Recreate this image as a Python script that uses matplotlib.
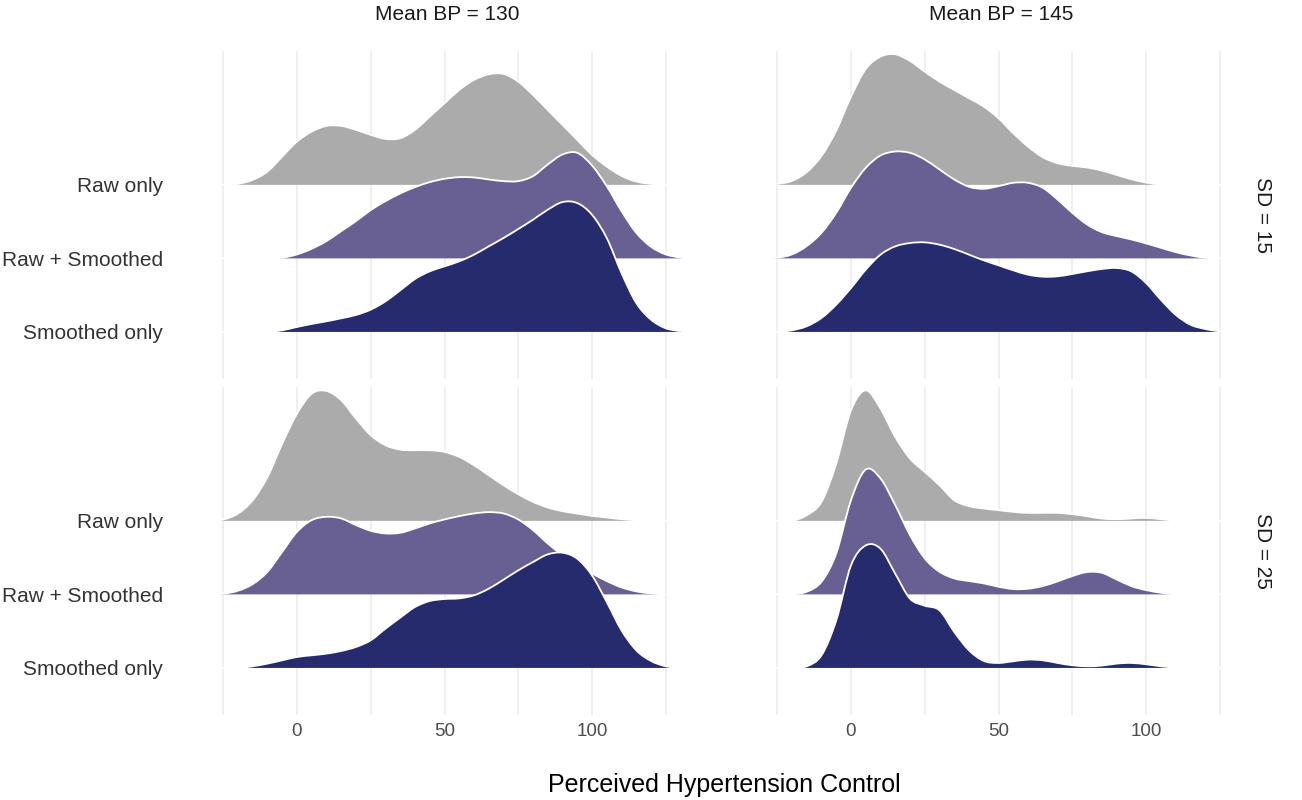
import numpy as np
import matplotlib.pyplot as plt
from matplotlib.path import Path
from matplotlib.patches import PathPatch

plt.rcParams['font.family'] = ['Liberation Sans', 'DejaVu Sans']

figsize = (13.02, 8.0)

# x positions at which the ridge heights were read (perceived control score)
x_grid = list(range(-30, 135, 5))

row_labels = ['Smoothed only', 'Raw + Smoothed', 'Raw only']
mean_bp_labels = ['Mean BP = 130', 'Mean BP = 145']
sd_labels = ['SD = 15', 'SD = 25']
x_ticks = [0, 50, 100]
x_minor = [-25, 25, 75, 125]

# relative density heights (same arbitrary unit for every ridge)
sd15_bp130_raw = [0, 0, 3, 15, 40, 85, 130, 160, 177, 177, 165, 150, 138, 140, 165, 205, 245,
                  285, 315, 332, 333, 310, 270, 225, 180, 135, 90, 55, 27, 10, 3, 0, 0]
sd15_bp130_both = [0, 0, 0, 0, 0, 2, 12, 29, 52, 82, 112, 145, 172, 195, 214, 229, 239,
                   244, 243, 237, 232, 232, 247, 282, 312, 317, 279, 217, 142, 77, 35, 12, 2]
sd15_bp130_smooth = [0, 0, 0, 0, 0, 5, 15, 24, 32, 41, 51, 67, 92, 125, 159, 182, 197,
                     212, 232, 257, 282, 309, 337, 367, 390, 387, 352, 282, 177, 87, 37, 11, 2]

sd15_bp145_raw = [0, 3, 12, 38, 87, 163, 265, 348, 385, 392, 372, 340, 310, 285, 260, 235, 200,
                  155, 115, 83, 65, 57, 52, 43, 30, 17, 7, 1, 0, 0, 0, 0, 0]
sd15_bp145_both = [0, 2, 12, 37, 77, 137, 212, 272, 309, 321, 317, 297, 267, 237, 215, 209, 217,
                   227, 227, 212, 177, 137, 102, 79, 67, 57, 45, 32, 19, 9, 2, 0, 0]
sd15_bp145_smooth = [0, 0, 5, 17, 42, 82, 132, 187, 232, 257, 267, 269, 262, 249, 232, 215, 200,
                     185, 172, 166, 167, 174, 182, 189, 192, 182, 147, 97, 52, 22, 9, 2, 0]

sd25_bp130_raw = [0, 4, 22, 62, 132, 232, 322, 382, 390, 362, 307, 257, 227, 214, 212, 212, 207,
                  192, 167, 137, 107, 80, 57, 40, 29, 22, 15, 10, 5, 2, 0, 0, 0]
sd25_bp130_both = [0, 2, 11, 31, 68, 128, 188, 223, 233, 228, 208, 191, 183, 185, 198, 213, 225,
                   235, 243, 247, 243, 225, 193, 153, 118, 88, 63, 40, 21, 9, 3, 0, 0]
sd25_bp130_smooth = [0, 0, 0, 5, 13, 23, 33, 38, 43, 51, 63, 83, 118, 151, 183, 201, 207,
                     209, 218, 238, 265, 293, 318, 341, 346, 328, 278, 198, 113, 53, 21, 5, 0]

sd25_bp145_raw = [0, 0, 0, 17, 57, 172, 332, 392, 337, 252, 187, 147, 107, 62, 44, 37, 32,
                  27, 24, 24, 24, 20, 14, 7, 5, 7, 9, 5, 1, 0, 0, 0, 0]
sd25_bp145_both = [0, 0, 0, 8, 38, 123, 283, 375, 348, 268, 178, 108, 68, 48, 40, 33, 23,
                   16, 17, 25, 39, 55, 67, 65, 45, 25, 13, 5, 0, 0, 0, 0, 0]
sd25_bp145_smooth = [0, 0, 0, 5, 38, 143, 308, 368, 358, 283, 208, 187, 173, 108, 53, 21, 15,
                     20, 25, 23, 15, 8, 5, 7, 13, 15, 11, 5, 1, 0, 0, 0, 0]

panels = [
    [[sd15_bp130_smooth, sd15_bp130_both, sd15_bp130_raw],
     [sd15_bp145_smooth, sd15_bp145_both, sd15_bp145_raw]],
    [[sd25_bp130_smooth, sd25_bp130_both, sd25_bp130_raw],
     [sd25_bp145_smooth, sd25_bp145_both, sd25_bp145_raw]],
]

fills = ['#252b6c', '#686092', '#ababab']
ridge_scale = 1.775  # tallest ridge spans this many rows
dens_max = max(max(d) for panel_row in panels for p in panel_row for d in p)


def ridge_path(xs, ys, base):
    # smooth cubic path through the read points (Catmull-Rom style handles)
    pts = np.column_stack([xs, ys]).astype(float)
    verts = [pts[0]]
    codes = [Path.MOVETO]
    for n in range(len(pts) - 1):
        p0 = pts[max(n - 1, 0)]
        p1, p2 = pts[n], pts[n + 1]
        p3 = pts[min(n + 2, len(pts) - 1)]
        c1 = p1 + (p2 - p0) / 6
        c2 = p2 - (p3 - p1) / 6
        c1[1] = max(c1[1], base)
        c2[1] = max(c2[1], base)
        verts += [c1, c2, p2]
        codes += [Path.CURVE4] * 3
    return verts, codes


fig = plt.figure(figsize=figsize, dpi=100)
fig.patch.set_facecolor('white')

W, H = 1302.0, 800.0
col_left = [208.5, 762.5]
col_width = 477.9
row_top = [51.0, 387.0]
row_height = 328.0

for i, sd in enumerate(sd_labels):
    for j, bp in enumerate(mean_bp_labels):
        ax = fig.add_axes([col_left[j] / W, 1 - (row_top[i] + row_height) / H,
                           col_width / W, row_height / H])
        ax.set_xlim(-30, 132)
        ax.set_ylim(0.36, 4.82)
        for s in ax.spines.values():
            s.set_visible(False)
        ax.set_axisbelow(True)
        ax.set_xticks(x_ticks)
        ax.set_xticks(x_minor, minor=True)
        ax.grid(axis='x', which='both', color='#ebebeb', lw=1.1)
        ax.tick_params(axis='both', which='both', length=0)
        ax.tick_params(axis='x', labelsize=13.5, labelcolor='#4d4d4d', pad=6)
        if i == 0:
            ax.tick_params(axis='x', labelbottom=False)
        ax.set_yticks([1, 2, 3])
        if j == 0:
            ax.set_yticklabels(row_labels)
            ax.tick_params(axis='y', labelsize=15, labelcolor='#333333', pad=33)
        else:
            ax.set_yticklabels([])

        # back row first so the lower ridges overlap the ones above
        for k in [2, 1, 0]:
            dens = np.array(panels[i][j][k]) / dens_max * ridge_scale
            base = k + 1
            z = 10 + (2 - k) * 2
            verts, codes = ridge_path(x_grid, base + dens, base)
            fill_verts = verts + [(x_grid[-1], base), (x_grid[0], base), verts[0]]
            fill_codes = codes + [Path.LINETO, Path.LINETO, Path.CLOSEPOLY]
            ax.add_patch(PathPatch(Path(fill_verts, fill_codes), facecolor=fills[k],
                                   edgecolor='none', zorder=z))
            ax.add_patch(PathPatch(Path(verts, codes), facecolor='none', edgecolor='white',
                                   lw=1.3, zorder=z + 1))

        if i == 0:
            ax.text(0.5, 1 + 37 / row_height, bp, transform=ax.transAxes,
                    ha='center', va='center', fontsize=15, color='#1a1a1a')
        if j == 1:
            ax.text(1 + 22 / col_width, 0.5, sd, transform=ax.transAxes,
                    ha='center', va='center', rotation=-90, fontsize=15, color='#1a1a1a')

fig.text(724.5 / W, 1 - 785 / H, 'Perceived Hypertension Control',
         ha='center', va='center', fontsize=18, color='black')

plt.savefig('out.png', dpi=100, facecolor='white')
